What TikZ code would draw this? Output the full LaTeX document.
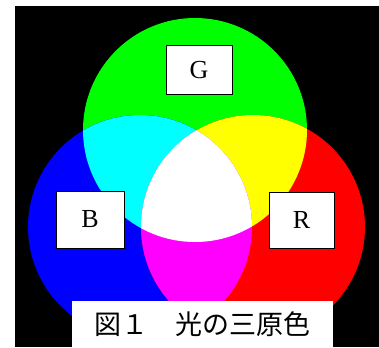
\documentclass[tikz,border=0pt]{standalone}
\usepackage{fontspec}
\setmainfont{Liberation Serif}
\newfontfamily\cjk{Noto Sans CJK JP}
\usepackage{tikz}
\definecolor{lred}{RGB}{255,0,0}
\definecolor{lgreen}{RGB}{0,255,0}
\definecolor{lblue}{RGB}{0,0,255}
\definecolor{lcyan}{RGB}{0,255,255}
\definecolor{lyellow}{RGB}{255,255,0}
\definecolor{lmagenta}{RGB}{255,0,255}
\tikzset{
  lbl/.style={draw=black, line width=1pt, fill=white, inner sep=0pt,
    font=\fontsize{26}{26}\selectfont},
  capt/.style={fill=white, inner sep=0pt, minimum width=261pt, minimum height=46pt,
    font=\cjk\fontsize{27}{27}\selectfont}
}

\begin{document}
\begin{tikzpicture}[x=1pt,y=-1pt]
    \useasboundingbox (0,0) rectangle (379,347);
    \fill[black] (15,6) rectangle (379,347);

    \coordinate (cg) at (195,130);
    \coordinate (cb) at (140,227);
    \coordinate (cr) at (253,227);

    % the three lights
    \fill[lgreen] (cg) circle (112);
    \fill[lblue] (cb) circle (112);
    \fill[lred] (cr) circle (112);

    % where two of them meet
    \begin{scope}
      \clip (cb) circle (112);
      \fill[lcyan] (cg) circle (112);
    \end{scope}
    \begin{scope}
      \clip (cg) circle (112);
      \fill[lyellow] (cr) circle (112);
    \end{scope}
    \begin{scope}
      \clip (cb) circle (112);
      \fill[lmagenta] (cr) circle (112);
    \end{scope}
    \begin{scope}
      \clip (cb) circle (112);
      \clip (cg) circle (112);
      \fill[white] (cr) circle (112);
    \end{scope}

    \node[lbl, minimum width=66pt, minimum height=49pt] (g) at (199,70.5) {G};
    \node[lbl, minimum width=68pt, minimum height=57pt] (b) at (90,219.5) {B};
    \node[lbl, minimum width=65pt, minimum height=56pt] (r) at (301.5,220) {R};

    \node[capt] (cap) at (202.5,324) {図１　光の三原色};
\end{tikzpicture}
\end{document}
